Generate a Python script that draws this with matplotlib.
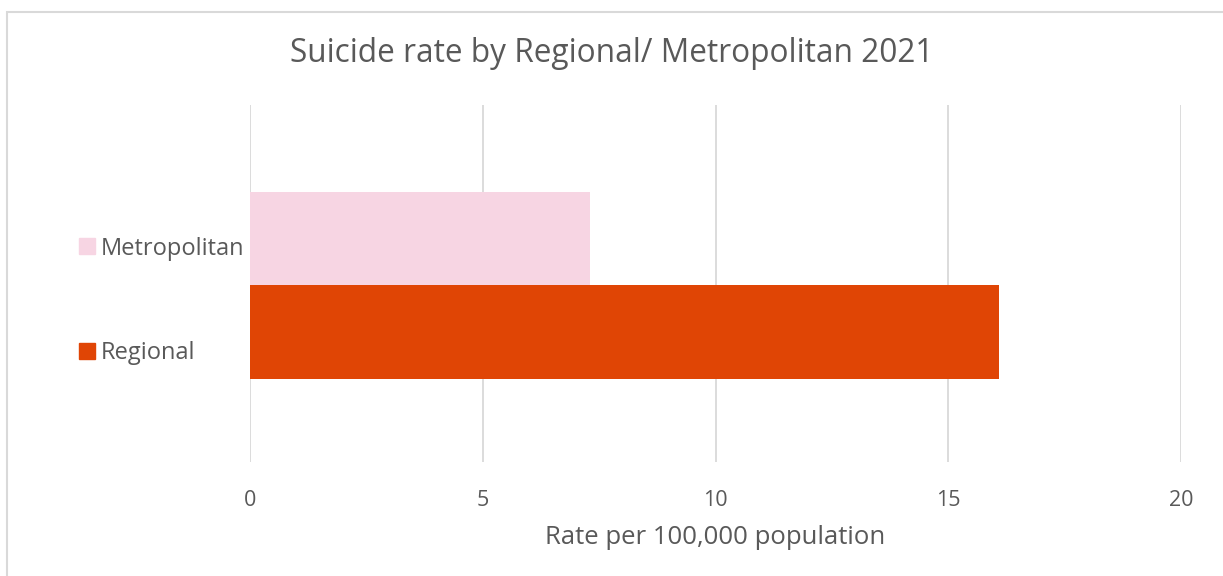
import matplotlib.pyplot as plt
from matplotlib.patches import Patch, Rectangle

series = ["Regional", "Metropolitan"]
rates = [16.1, 7.3]
colors = ["#E04505", "#F7D5E3"]
x_ticks = [0, 5, 10, 15, 20]

plt.rcParams["font.family"] = ["Open Sans", "DejaVu Sans"]
text_color = "#595959"

W, H = 1223, 576
fig = plt.figure(figsize=(W / 100, H / 100), dpi=100)

# outer chart border (light grey, runs off right and bottom)
fig.patches.append(Rectangle((6.5 / W, -0.05), 1.1, (H - 12) / H + 0.05,
                             transform=fig.transFigure, fill=False,
                             edgecolor="#D9D9D9", linewidth=1.5))

ax = fig.add_axes([250 / W, (H - 462) / H, (1181 - 250) / W, (462 - 105) / H])

for i in range(len(series)):
    ax.barh(i, rates[i], height=1.0, color=colors[i], label=series[i], zorder=3)

ax.set_xlim(0, 20)
ax.set_ylim(-1.39, 2.43)
ax.set_xticks(x_ticks)
ax.set_yticks([])
ax.grid(True, axis="x", color="#D9D9D9", linewidth=1.3, zorder=0)
for s in ax.spines.values():
    s.set_visible(False)
ax.tick_params(axis="x", length=0, pad=20, labelsize=15.5, labelcolor=text_color)
ax.set_xlabel("Rate per 100,000 population", fontsize=18.5, color=text_color, labelpad=10)

fig.text(0.5, (H - 54) / H, "Suicide rate by Regional/ Metropolitan 2021",
         ha="center", va="center", fontsize=22.8, color=text_color)

handles = [Patch(color=colors[1], label=series[1]), Patch(color=colors[0], label=series[0])]
leg = fig.legend(handles=handles, loc="center left", bbox_to_anchor=(58 / W, (H - 301) / H),
                 frameon=False, fontsize=17, labelcolor=text_color, labelspacing=3.43,
                 handlelength=0.65, handleheight=0.65, handletextpad=0.25)

plt.savefig("out.png", dpi=100)
